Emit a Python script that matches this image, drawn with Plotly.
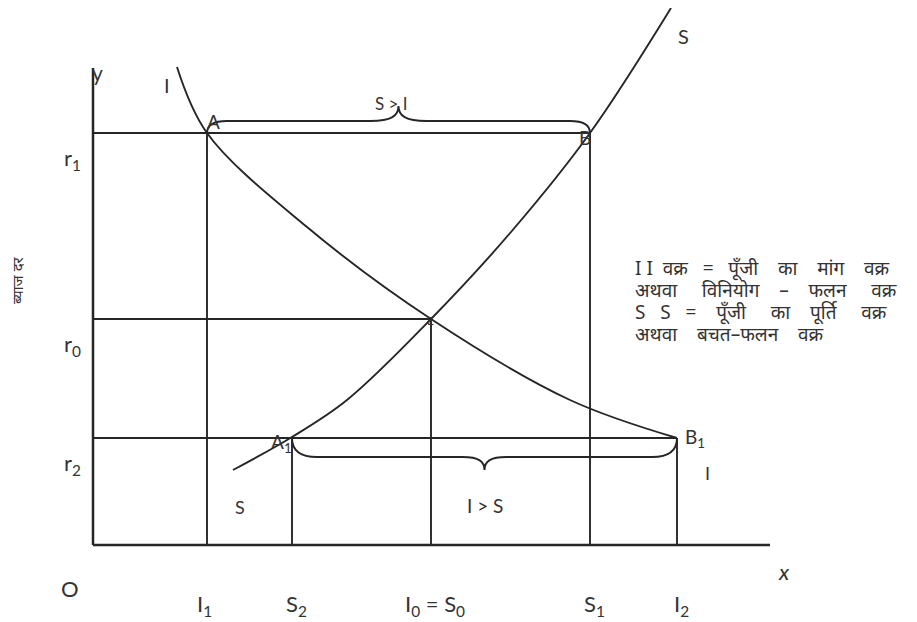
import plotly.graph_objects as go

# ---- data (conceptual units; origin O at the axes crossing) ----
x_axis_end = 67.7
y_axis_end = 47.7

# interest rates
r1, r0, r2 = 41.2, 22.6, 10.7
# quantities
I1, S2, I0, S1, I2 = 11.4, 19.9, 33.8, 49.7, 58.4

# investment-demand curve I I
inv_x = [8.4, 11.4, 21.4, 33.8, 47.7, 58.4]
inv_y = [47.8, 41.2, 31.8, 22.6, 14.5, 10.7]
# saving-supply curve S S
sav_x = [14.0, 19.9, 25.4, 33.8, 41.8, 49.7, 57.8]
sav_y = [7.5, 10.8, 14.5, 22.6, 31.3, 41.2, 53.7]

x_tick_labels = ["I<sub>1</sub>", "S<sub>2</sub>", "I<sub>0</sub> = S<sub>0</sub>", "S<sub>1</sub>", "I<sub>2</sub>"]
x_tick_values = [I1, S2, I0, S1, I2]
y_tick_labels = ["r<sub>1</sub>", "r<sub>0</sub>", "r<sub>2</sub>"]
y_tick_values = [r1, r0, r2]

NB = "\u00a0"
legend_lines = [
    f"I I{NB*2}वक्र{NB*3}={NB*3}पूँजी{NB*4}का{NB*4}मांग{NB*4}वक्र",
    f"अथवा{NB*5}विनियोग{NB*4}–{NB*4}फलन{NB*5}वक्र",
    f"S{NB*3}S{NB*3}={NB*4}पूँजी{NB*5}का{NB*4}पूर्ति{NB*5}वक्र",
    f"अथवा{NB*4}बचत–फलन{NB*4}वक्र",
]
y_title = "ब्याज दर"

LINE = "#262626"
TXT = "#333333"
FONT = "Lato, Open Sans, sans-serif"

fig = go.Figure()


def seg(xs, ys, w=1.9):
    fig.add_trace(go.Scatter(x=xs, y=ys, mode="lines",
                             line=dict(color=LINE, width=w),
                             hoverinfo="skip", showlegend=False))


# axes
seg([0, 0], [0, y_axis_end], 2.5)
seg([0, x_axis_end], [0, 0], 2.5)

# horizontal guide lines
seg([0, S1], [r1, r1])
seg([0, I0], [r0, r0])
seg([0, I2], [r2, r2])
# vertical guide lines
seg([I1, I1], [r1, 0])
seg([S1, S1], [r1, 0])
seg([I0, I0], [r0, 0])
seg([S2, S2], [r2, 0])
seg([I2, I2], [r2, 0])

# curves
fig.add_trace(go.Scatter(x=inv_x, y=inv_y, mode="lines",
                         line=dict(color=LINE, width=1.9, shape="spline"),
                         hoverinfo="skip", showlegend=False))
fig.add_trace(go.Scatter(x=sav_x, y=sav_y, mode="lines",
                         line=dict(color=LINE, width=1.9, shape="spline"),
                         hoverinfo="skip", showlegend=False))


def brace(x0, x1, y_end, level, tip, r, w):
    mid = (x0 + x1) / 2
    d = tip - level
    p = (f"M {x0},{y_end} Q {x0},{level} {x0 + r},{level} "
         f"L {mid - w},{level} "
         f"C {mid - w * 0.25},{level} {mid},{level + d * 0.35} {mid},{tip} "
         f"C {mid},{level + d * 0.35} {mid + w * 0.25},{level} {mid + w},{level} "
         f"L {x1 - r},{level} Q {x1},{level} {x1},{y_end}")
    fig.add_shape(type="path", path=p, xref="x", yref="y",
                  line=dict(color=LINE, width=1.9))


brace(I1, S1, r1, r1 + 1.2, r1 + 2.7, 2.0, 2.8)
brace(S2, I2, r2, r2 - 1.9, r2 - 3.2, 2.5, 2.2)


def label(x, y, text, size=21, **kw):
    fig.add_annotation(x=x, y=y, text=text, showarrow=False, xref="x", yref="y",
                       font=dict(family=FONT, size=size, color=TXT), **kw)


# axis tick labels
for xv, t in zip(x_tick_values, x_tick_labels):
    label(xv - 0.3 if t.startswith("I<sub>1") else xv + 0.4, -6.0, t, 22)
for yv, t in zip(y_tick_values, y_tick_labels):
    label(-2.1, yv - 2.6, t, 22)
label(-2.3, -4.3, "O", 22)
label(69.1, -2.6, "<i>x</i>", 22)
label(0.4, 47.3, "y", 21)

# curve / point labels
label(7.4, 46.0, "I", 20)
label(59.0, 50.9, "S", 20)
label(14.7, 3.8, "S", 18)
label(61.4, 7.2, "I", 18)
label(12.0, 42.4, "A", 19)
label(49.2, 40.8, "B", 19)
label(33.7, 22.5, "E", 12)
label(18.8, 10.2, "A<sub>1</sub>", 19)
label(60.2, 10.7, "B<sub>1</sub>", 19)
label(29.8, 44.2, "S > I", 17)
label(39.2, 4.0, "I > S", 19)

# explanatory text block, one line at a time
for i, line in enumerate(legend_lines):
    fig.add_annotation(x=54.0, y=27.7 - i * 2.2, xref="x", yref="y", showarrow=False,
                       xanchor="left", yanchor="middle", align="left",
                       text=line,
                       font=dict(family="Noto Sans, sans-serif", size=19, color=TXT))

# y-axis title (rotated)
fig.add_annotation(x=-7.6, y=26.5, xref="x", yref="y", showarrow=False,
                   text=y_title, textangle=-90,
                   font=dict(family="Noto Sans, sans-serif", size=15, color=TXT))

fig.update_layout(
    width=917, height=622,
    margin=dict(l=0, r=0, t=0, b=0),
    paper_bgcolor="white", plot_bgcolor="white",
    xaxis=dict(range=[-8.5, 83.2], visible=False),
    yaxis=dict(range=[-8.5, 53.7], visible=False),
    showlegend=False,
)

fig.write_html("out.html")
